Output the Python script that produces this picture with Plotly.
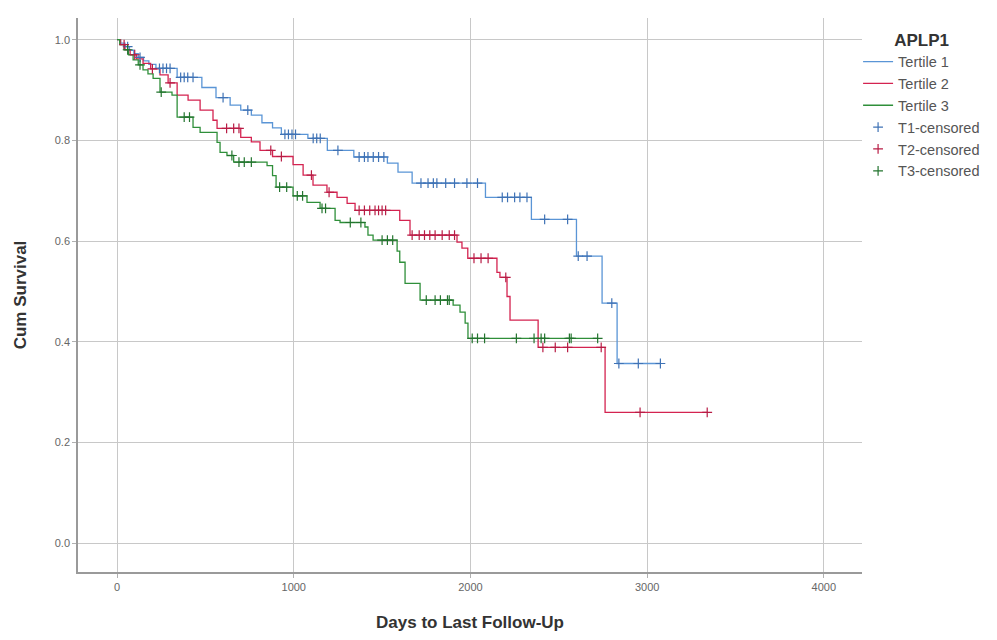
import numpy as np
import plotly.graph_objects as go

# ---------------- data ----------------
groups = ["Tertile 1", "Tertile 2", "Tertile 3"]
censor_names = ["T1-censored", "T2-censored", "T3-censored"]

# Tertile 1 : event days and survival after each event
t1_days = [20, 45, 70, 95, 120, 150, 180, 220, 340, 480, 560, 640, 700, 760, 820,
           880, 930, 1080, 1190, 1340, 1530, 1590, 1670, 2085, 2345, 2600, 2745, 2830]
t1_surv = [0.993, 0.986, 0.979, 0.972, 0.965, 0.958, 0.951, 0.943, 0.925, 0.905,
           0.885, 0.870, 0.860, 0.850, 0.835, 0.825, 0.812, 0.804, 0.780, 0.767,
           0.755, 0.737, 0.715, 0.687, 0.643, 0.570, 0.477, 0.357]
t1_cens = [60, 130, 240, 260, 280, 300, 360, 380, 400, 430, 600, 740, 950, 970, 990,
           1010, 1110, 1130, 1150, 1250, 1370, 1400, 1420, 1450, 1480, 1510, 1720,
           1760, 1790, 1810, 1860, 1910, 1980, 2040, 2180, 2210, 2250, 2280, 2320,
           2420, 2550, 2610, 2660, 2800, 2840, 2950, 3075]

# Tertile 2
t2_days = [20, 45, 74, 110, 147, 190, 243, 289, 340, 402, 470, 543, 566, 700, 760,
           809, 880, 996, 1053, 1109, 1188, 1245, 1302, 1347, 1600, 1658, 1924, 1952,
           1985, 2150, 2167, 2207, 2224, 2383, 2762]
t2_surv = [0.990, 0.980, 0.970, 0.962, 0.953, 0.942, 0.930, 0.914, 0.890, 0.880,
           0.860, 0.840, 0.824, 0.806, 0.797, 0.780, 0.768, 0.752, 0.731, 0.711,
           0.697, 0.687, 0.675, 0.661, 0.641, 0.612, 0.598, 0.586, 0.566, 0.538,
           0.528, 0.490, 0.443, 0.389, 0.260]
t2_cens = [40, 100, 200, 300, 620, 660, 690, 870, 930, 1100, 1200, 1370, 1400, 1430,
           1460, 1480, 1500, 1520, 1670, 1710, 1740, 1770, 1800, 1840, 1880, 1910,
           2020, 2060, 2100, 2200, 2410, 2480, 2550, 2740, 2960, 3340]

# Tertile 3
t3_days = [15, 40, 65, 91, 120, 147, 175, 204, 243, 311, 340, 430, 470, 566, 583,
           622, 660, 849, 880, 900, 996, 1075, 1149, 1234, 1262, 1403, 1420, 1449,
           1585, 1600, 1630, 1715, 1902, 1941, 1970, 1986]
t3_surv = [0.990, 0.980, 0.970, 0.960, 0.950, 0.940, 0.932, 0.923, 0.896, 0.890,
           0.846, 0.826, 0.816, 0.796, 0.776, 0.770, 0.757, 0.750, 0.730, 0.707,
           0.690, 0.677, 0.665, 0.641, 0.637, 0.628, 0.612, 0.602, 0.580, 0.558,
           0.516, 0.483, 0.473, 0.459, 0.437, 0.407]
t3_cens = [60, 130, 250, 380, 410, 650, 690, 720, 760, 920, 960, 1020, 1050, 1160,
           1180, 1320, 1380, 1500, 1530, 1560, 1750, 1800, 1830, 1870, 1880, 2010,
           2040, 2080, 2260, 2360, 2400, 2420, 2560, 2570, 2720]

x_ticks = [0, 1000, 2000, 3000, 4000]
y_ticks = [0.0, 0.2, 0.4, 0.6, 0.8, 1.0]
y_tick_labels = ["0.0", "0.2", "0.4", "0.6", "0.8", "1.0"]

colors = ["#5a95d6", "#d42350", "#2f8f3a"]
cens_colors = ["#3f72b5", "#b81c45", "#23742e"]

FONT = "Liberation Sans, Arial, sans-serif"


def km_path(days, surv, cens):
    end = max(max(cens), max(days))
    xs = [0] + list(days) + [end]
    ys = [1.0] + list(surv) + [surv[-1]]
    return xs, ys


def cens_y(days, surv, cens):
    d = np.array(days)
    s = np.array([1.0] + list(surv))
    idx = np.searchsorted(d, np.array(cens), side="right")
    return s[idx].tolist()


fig = go.Figure()
series = [(t1_days, t1_surv, t1_cens), (t2_days, t2_surv, t2_cens), (t3_days, t3_surv, t3_cens)]

for i, (d, s, c) in enumerate(series):
    xs, ys = km_path(d, s, c)
    fig.add_trace(go.Scatter(x=xs, y=ys, mode="lines", name=groups[i],
                             line=dict(color=colors[i], width=1.3, shape="hv"),
                             hoverinfo="skip"))
for i, (d, s, c) in enumerate(series):
    fig.add_trace(go.Scatter(x=c, y=cens_y(d, s, c), mode="markers", name=censor_names[i],
                             marker=dict(symbol="cross-thin", size=7, color=cens_colors[i],
                                         line=dict(color=cens_colors[i], width=1.2)),
                             hoverinfo="skip"))

fig.update_layout(
    width=997, height=640,
    margin=dict(l=78, r=135, t=18, b=68),
    paper_bgcolor="white", plot_bgcolor="white",
    font=dict(family=FONT, color="#555555", size=11),
    showlegend=True,
    legend=dict(
        x=0.995, y=0.99, xanchor="left", yanchor="top",
        title=dict(text="<b>APLP1</b>", font=dict(size=17, color="#333333", family=FONT),
                   side="top center"),
        font=dict(size=14.5, color="#555555", family=FONT),
        tracegroupgap=0, itemwidth=30,
        bgcolor="rgba(0,0,0,0)",
    ),
    xaxis=dict(
        range=[-221, 4216], tickvals=x_ticks, ticktext=[str(v) for v in x_ticks],
        showgrid=True, gridcolor="#c8c8c8", gridwidth=1,
        zeroline=False, showline=True, linecolor="#9a9a9a", linewidth=1.5,
        ticks="outside", ticklen=4, tickcolor="#b0b0b0",
        tickfont=dict(size=11, color="#666666"),
        title=dict(text="<b>Days to Last Follow-Up</b>",
                   font=dict(size=17, color="#333333", family=FONT), standoff=24),
    ),
    yaxis=dict(
        range=[-0.057, 1.043], tickvals=y_ticks, ticktext=y_tick_labels,
        showgrid=True, gridcolor="#c8c8c8", gridwidth=1,
        zeroline=False, showline=True, linecolor="#9a9a9a", linewidth=1.5,
        ticks="outside", ticklen=4, tickcolor="#b0b0b0",
        tickfont=dict(size=11, color="#666666"),
        title=dict(text="<b>Cum Survival</b>",
                   font=dict(size=17, color="#333333", family=FONT), standoff=24),
    ),
)

fig.write_html("out.html")
